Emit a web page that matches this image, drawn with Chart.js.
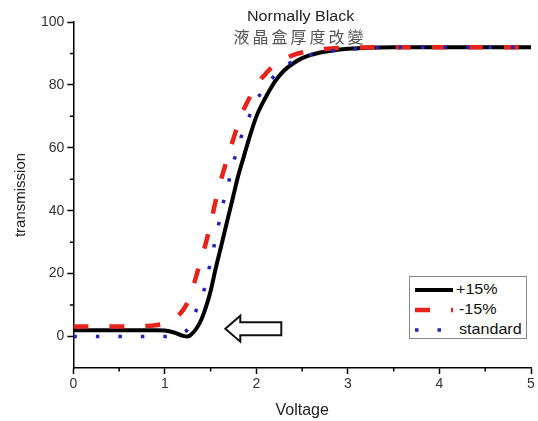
<!DOCTYPE html>
<html>
<head>
<meta charset="utf-8">
<script src="https://cdn.jsdelivr.net/npm/chart.js@4.4.1/dist/chart.umd.min.js"></script>
<style>
  html,body{margin:0;padding:0;background:#fff;}
  #wrap{position:relative;width:538px;height:421px;overflow:hidden;}
  #c{position:absolute;left:0;top:0;}
  .title1{position:absolute;left:0;width:602px;top:8px;text-align:center;font:14px "Liberation Sans",Arial,sans-serif;color:#222;}
  .title2{position:absolute;left:0;width:600px;top:24px;text-align:center;font:16px "Noto Sans CJK TC",sans-serif;color:#555;letter-spacing:3px;}
  #legend{position:absolute;left:409px;top:276px;width:118px;height:63px;border:1px solid #888;background:#fff;box-sizing:border-box;}
  .row{position:absolute;left:0;height:20px;width:117px;}
  .row svg{position:absolute;left:5px;top:6px;}
  .row span{position:absolute;top:1px;font:14px "Liberation Sans",Arial,sans-serif;color:#111;transform:scaleX(1.15);transform-origin:left center;white-space:nowrap;}
</style>
</head>
<body>
<div id="wrap">
  <canvas id="c" width="538" height="421"></canvas>
  <div class="title1"><span style="display:inline-block;transform:scaleX(1.15)">Normally Black</span></div>
  <div class="title2">液晶盒厚度改變</div>
  <div id="legend"></div>
</div>
<script>
// ---- data ----
const volts    = [0, 0.5, 0.9, 1.0, 1.1, 1.2, 1.25, 1.3, 1.35, 1.4, 1.45, 1.5, 1.55, 1.6, 1.65, 1.7, 1.75, 1.8, 1.85, 1.9, 2.0, 2.1, 2.2, 2.3, 2.4, 2.5, 2.7, 3.0, 3.5, 4.0, 4.5, 5.0];
const plus15   = [2, 2, 2, 1.9, 1.3, 0.2, 0, 1, 2.8, 5.5, 9.5, 14.5, 21, 27, 33, 39, 45, 51, 56, 61, 70, 76, 81, 84.5, 86.8, 88.5, 90.3, 91.5, 92, 92, 92, 92];
const minus15  = [3.2, 3.2, 3.6, 4.2, 5.5, 8.5, 11, 15, 20, 25, 30, 36, 42.5, 48.5, 53.5, 58.5, 63, 67.5, 71.5, 74.5, 80, 83.5, 86.5, 88.2, 89.5, 90.3, 91.3, 91.8, 92, 92, 92, 92];
const standard = [0, 0, 0, 0, 0.3, 1.2, 2.3, 5, 9, 12.5, 17, 24, 30.5, 37.5, 44, 49.5, 55.5, 60, 65, 68.5, 75, 79.5, 83, 85.8, 87.5, 88.8, 90.3, 91.3, 92, 92, 92, 92];
const seriesNames = ['+15%', '-15%', 'standard'];
const xMajor = [0, 1, 2, 3, 4, 5];
const xMinor = [0.5, 1.5, 2.5, 3.5, 4.5];
const yMajor = [0, 20, 40, 60, 80, 100];
const yMinor = [10, 30, 50, 70, 90];
const arrowTip = {x: 1.66, y: 2.5};

const pts = arr => volts.map((v, i) => ({x: v, y: arr[i]}));

const styles = [
  {color: '#000000', width: 4, dash: []},
  {color: '#e8231c', width: 4.5, dash: [15, 21]},
  {color: '#2424b0', width: 3.5, dash: [3.5, 19]}
];

// HTML legend
const legend = document.getElementById('legend');
seriesNames.forEach((name, i) => {
  const s = styles[i];
  const row = document.createElement('div');
  row.className = 'row';
  row.style.top = (3 + i * 20) + 'px';
  row.innerHTML = '<svg width="38" height="8"><line x1="0" y1="4" x2="38" y2="4" stroke="' + s.color +
    '" stroke-width="' + s.width + '" stroke-dasharray="' + (s.dash.length ? s.dash.join(',') : 'none') + '"/></svg>' +
    '<span style="left:' + (46 + (i === 0 ? 0 : 3)) + 'px">' + name + '</span>';
  legend.appendChild(row);
});

const extras = {
  id: 'extras',
  afterDraw(chart) {
    const {ctx, scales: {x, y}, chartArea: ca} = chart;
    ctx.save();
    ctx.strokeStyle = '#000';
    ctx.lineWidth = 1.5;
    ctx.beginPath();
    xMinor.forEach(v => { const px = x.getPixelForValue(v); ctx.moveTo(px, ca.bottom); ctx.lineTo(px, ca.bottom + 3.5); });
    yMinor.forEach(v => { const py = y.getPixelForValue(v); ctx.moveTo(ca.left, py); ctx.lineTo(ca.left - 3.5, py); });
    ctx.stroke();
    // hollow arrow annotation
    const tx = x.getPixelForValue(arrowTip.x), ty = y.getPixelForValue(arrowTip.y);
    ctx.beginPath();
    ctx.moveTo(tx, ty);
    ctx.lineTo(tx + 15, ty - 13);
    ctx.lineTo(tx + 15, ty - 6.5);
    ctx.lineTo(tx + 56, ty - 6.5);
    ctx.lineTo(tx + 56, ty + 6.5);
    ctx.lineTo(tx + 15, ty + 6.5);
    ctx.lineTo(tx + 15, ty + 13);
    ctx.closePath();
    ctx.fillStyle = '#fff';
    ctx.fill();
    ctx.lineWidth = 2;
    ctx.strokeStyle = '#111';
    ctx.stroke();
    ctx.restore();
  }
};

const tickFont = {family: '"Liberation Sans", Arial, sans-serif', size: 14};
new Chart(document.getElementById('c'), {
  type: 'line',
  data: {
    datasets: [plus15, minus15, standard].map((arr, i) => ({
      label: seriesNames[i],
      data: pts(arr),
      borderColor: styles[i].color,
      borderWidth: styles[i].width,
      borderDash: styles[i].dash,
      borderCapStyle: 'butt',
      pointRadius: 0,
      fill: false,
      cubicInterpolationMode: 'monotone'
    })).reverse()
  },
  options: {
    responsive: false,
    animation: false,
    devicePixelRatio: 1,
    layout: {padding: {top: 22, right: 7, left: 12, bottom: 1}},
    plugins: {legend: {display: false}, tooltip: {enabled: false}, title: {display: false}},
    scales: {
      x: {
        type: 'linear', min: 0, max: 5,
        afterBuildTicks: s => { s.ticks = xMajor.map(v => ({value: v})); },
        ticks: {font: tickFont, color: '#333', padding: 2, maxRotation: 0},
        grid: {drawOnChartArea: false, drawTicks: true, tickLength: 6, tickColor: '#000', tickWidth: 1.5},
        border: {display: true, color: '#000', width: 1.5},
        title: {display: true, text: 'Voltage', font: {family: '"Liberation Sans", Arial, sans-serif', size: 16}, color: '#222', padding: {top: 6, bottom: 0}}
      },
      y: {
        type: 'linear', min: -10, max: 100,
        afterBuildTicks: s => { s.ticks = yMajor.map(v => ({value: v})); },
        ticks: {font: tickFont, color: '#333', padding: 3},
        grid: {drawOnChartArea: false, drawTicks: true, tickLength: 6, tickColor: '#000', tickWidth: 1.5},
        border: {display: true, color: '#000', width: 1.5},
        title: {display: true, text: 'transmission', font: {family: '"Liberation Sans", Arial, sans-serif', size: 15}, color: '#222', padding: {top: 0, bottom: 8}}
      }
    }
  },
  plugins: [extras]
});
</script>
</body>
</html>
